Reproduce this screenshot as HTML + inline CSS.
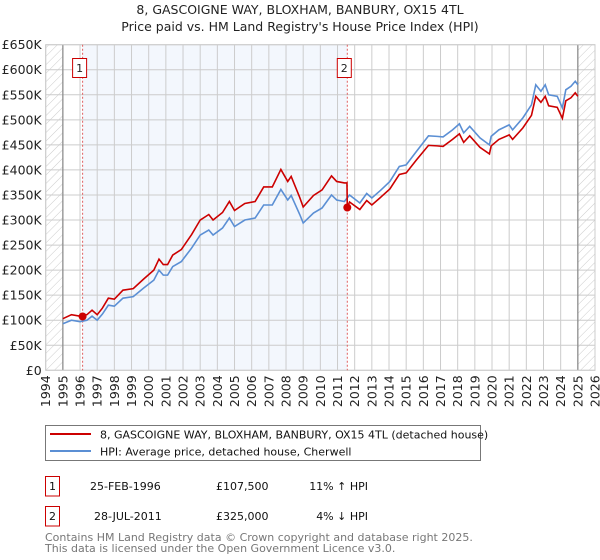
<!DOCTYPE html>
<html><head><meta charset="utf-8"><style>
body{margin:0;background:#fff;width:600px;height:560px;overflow:hidden;font-family:"Liberation Sans","DejaVu Sans",sans-serif}
svg{display:block}
</style></head><body>
<svg id="chart" width="600" height="560" xmlns="http://www.w3.org/2000/svg" font-family="DejaVu Sans, Liberation Sans, sans-serif">
<defs><pattern id="hatch" width="6" height="6" patternUnits="userSpaceOnUse" patternTransform="rotate(45)"><line x1="0" y1="0" x2="0" y2="6" stroke="#ccc" stroke-width="1"/></pattern></defs>
<text x="300" y="14" text-anchor="middle" font-size="12.5" fill="#222">8, GASCOIGNE WAY, BLOXHAM, BANBURY, OX15 4TL</text>
<text x="300" y="31" text-anchor="middle" font-size="12.5" fill="#222">Price paid vs. HM Land Registry's House Price Index (HPI)</text>
<g id="plot"></g>
<g>
<rect x="45.5" y="425.5" width="435" height="35" fill="#fff" stroke="#777"/>
<line x1="50" y1="434" x2="91" y2="434" stroke="#cc0000" stroke-width="2"/>
<text x="100" y="438.5" font-size="11" fill="#111">8, GASCOIGNE WAY, BLOXHAM, BANBURY, OX15 4TL (detached house)</text>
<line x1="50" y1="451" x2="91" y2="451" stroke="#5b8fd4" stroke-width="2"/>
<text x="100" y="455.5" font-size="11" fill="#111">HPI: Average price, detached house, Cherwell</text>
</g>
<g font-size="11" fill="#111">
<rect x="45.5" y="476.5" width="14" height="19.5" fill="#fff" stroke="#cc0000"/>
<text x="52.5" y="490" text-anchor="middle">1</text>
<text x="90" y="490">25-FEB-1996</text>
<text x="216" y="490">£107,500</text>
<text x="368" y="490" text-anchor="end">11% ↑ HPI</text>
<rect x="45.5" y="506.5" width="14" height="19.5" fill="#fff" stroke="#cc0000"/>
<text x="52.5" y="520" text-anchor="middle">2</text>
<text x="94" y="520">28-JUL-2011</text>
<text x="216" y="520">£325,000</text>
<text x="368" y="520" text-anchor="end">4% ↓ HPI</text>
</g>
<g font-size="11" fill="#777">
<text x="45" y="541">Contains HM Land Registry data © Crown copyright and database right 2025.</text>
<text x="45" y="552">This data is licensed under the Open Government Licence v3.0.</text>
</g>
</svg>
<script>
const hpiYears=[1995.0,1995.5,1996.0,1996.4,1996.7,1997.0,1997.3,1997.65,1998.0,1998.5,1999.1,1999.7,2000.3,2000.6,2000.85,2001.1,2001.4,2001.9,2002.5,2003.0,2003.5,2003.75,2004.3,2004.7,2005.0,2005.6,2006.2,2006.7,2007.2,2007.7,2008.1,2008.3,2008.8,2009.0,2009.6,2010.1,2010.65,2010.95,2011.4,2011.7,2012.3,2012.7,2013.0,2013.5,2014.05,2014.6,2015.0,2015.6,2016.3,2016.8,2017.15,2017.7,2018.1,2018.35,2018.7,2019.3,2019.85,2019.95,2020.4,2021.0,2021.2,2021.8,2022.3,2022.55,2022.85,2023.1,2023.3,2023.8,2024.1,2024.3,2024.6,2024.85,2025.0];
const hpiValues=[93,100,97,100,108,100,112,130,128,144,147,164,180,200,190,190,207,217,244,270,280,270,284,304,287,300,304,330,330,361,340,349,311,294,314,324,350,340,337,350,334,353,344,359,377,407,410,437,468,467,466,480,492,474,487,464,450,467,480,490,480,504,530,570,557,570,550,547,524,560,567,577,570];
const priceYears=[1995.0,1995.5,1996.0,1996.4,1996.7,1997.0,1997.3,1997.65,1998.0,1998.5,1999.1,1999.7,2000.3,2000.6,2000.85,2001.1,2001.4,2001.9,2002.5,2003.0,2003.5,2003.75,2004.3,2004.7,2005.0,2005.6,2006.2,2006.7,2007.2,2007.7,2008.1,2008.3,2008.8,2009.0,2009.6,2010.1,2010.65,2010.95,2011.4,2011.55,2011.57,2011.7,2012.3,2012.7,2013.0,2013.5,2014.05,2014.6,2015.0,2015.6,2016.3,2016.8,2017.15,2017.7,2018.1,2018.35,2018.7,2019.3,2019.85,2019.95,2020.4,2021.0,2021.2,2021.8,2022.3,2022.55,2022.85,2023.1,2023.3,2023.8,2024.1,2024.3,2024.6,2024.85,2025.0];
const priceValues=[103,111,108,111,120,111,124,144,142,160,163,182,200,222,211,211,230,241,271,300,311,300,315,337,319,333,337,366,366,401,377,387,345,326,349,360,388,377,374,374,325,336,321,339,330,345,362,391,394,420,449,448,447,461,472,455,468,445,432,448,461,470,461,484,509,547,535,547,528,525,503,538,544,554,547];
const saleYears=[1996.15,2011.57];
const saleValues=[107.5,325];
const saleLabels=["1","2"];
const yTicks=[0,50,100,150,200,250,300,350,400,450,500,550,600,650];
const yTickLabels=["£0","£50K","£100K","£150K","£200K","£250K","£300K","£350K","£400K","£450K","£500K","£550K","£600K","£650K"];
const xTicks=[1994,1995,1996,1997,1998,1999,2000,2001,2002,2003,2004,2005,2006,2007,2008,2009,2010,2011,2012,2013,2014,2015,2016,2017,2018,2019,2020,2021,2022,2023,2024,2025,2026];

const L=45.7,R=595,T=44.7,B=370.3;
const xS=y=>L+(y-1994)/(2026-1994)*(R-L);
const yS=v=>B-v/650*(B-T);
const NS="http://www.w3.org/2000/svg";
const g=document.getElementById('plot');
function mk(tag,attrs,parent){const e=document.createElementNS(NS,tag);for(const k in attrs)e.setAttribute(k,attrs[k]);(parent||g).appendChild(e);return e;}

const bg=mk('rect',{x:L,y:T,width:R-L,height:B-T,fill:'#fff'});


const sh=mk('rect',{x:xS(saleYears[0]),y:T,width:xS(saleYears[1])-xS(saleYears[0]),height:B-T,fill:'#eef3fc',opacity:0.7});


const h1=mk('rect',{x:L,y:T,width:xS(1995)-L,height:B-T,fill:'url(#hatch)'});


const h2=mk('rect',{x:xS(2025),y:T,width:R-xS(2025),height:B-T,fill:'url(#hatch)'});



yTicks.forEach((v,i)=>{
 const ln=mk('line',{x1:L,x2:R,y1:yS(v),y2:yS(v),stroke:'#ccc','stroke-width':1});
 
 
 const t=mk('text',{x:L-4,y:yS(v)+4.5,'text-anchor':'end','font-size':12.5,fill:'#222'});
 t.textContent=yTickLabels[i];
 
 
});
xTicks.forEach(y=>{
 const ln=mk('line',{x1:xS(y),x2:xS(y),y1:T,y2:B,stroke:'#ccc','stroke-width':1});
 
 
 const t=mk('text',{x:0,y:0,'text-anchor':'end','font-size':12.5,fill:'#222',transform:`translate(${xS(y)+4.5},${B+5}) rotate(-90)`});
 t.textContent=y;
 
 
});
[1995,2025].forEach(y=>{
 const ln=mk('line',{x1:xS(y),x2:xS(y),y1:T,y2:B,stroke:'#888','stroke-width':1.2});
 
 
});
const fr=mk('rect',{x:L,y:T,width:R-L,height:B-T,fill:'none',stroke:'#ccc'});



saleYears.forEach((y,i)=>{
 const ln=mk('line',{x1:xS(y),x2:xS(y),y1:T,y2:B,stroke:'#e06060','stroke-width':1,'stroke-dasharray':'2,2'});
 
 
 const bx=mk('rect',{x:xS(y)-10,y:58.5,width:14,height:19,fill:'#fff',stroke:'#cc0000'});
 
 
 const t=mk('text',{x:xS(y)-3,y:72,'text-anchor':'middle','font-size':11,fill:'#222'});
 t.textContent=saleLabels[i];
 
 
});

const hp=mk('polyline',{points:hpiYears.map((y,i)=>xS(y)+','+yS(hpiValues[i])).join(' '),fill:'none',stroke:'#5b8fd4','stroke-width':1.6});


const pp=mk('polyline',{points:priceYears.map((y,i)=>xS(y)+','+yS(priceValues[i])).join(' '),fill:'none',stroke:'#cc0000','stroke-width':1.6});


saleYears.forEach((y,i)=>{
 const c=mk('circle',{cx:xS(y),cy:yS(saleValues[i]),r:4,fill:'#cc0000'});
 
 
});
</script>
</body></html>
